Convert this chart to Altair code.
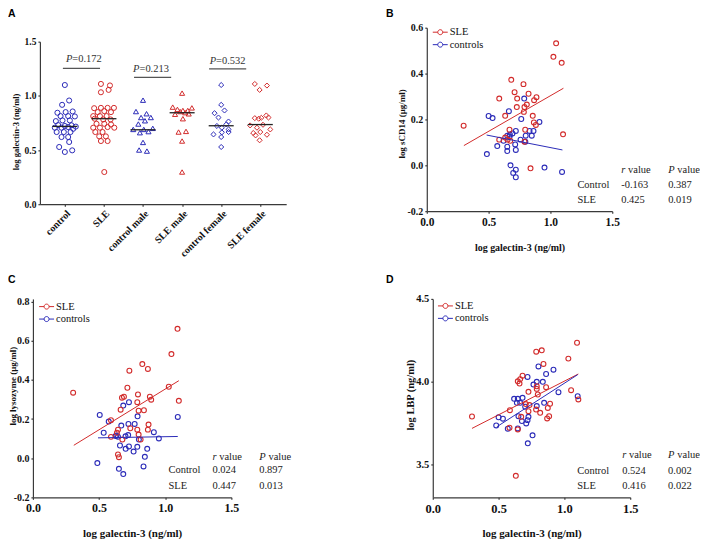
import json
import altair as alt
import pandas as pd

RED = "#d22b2b"
BLUE = "#2b2bb8"
AXIS_C = "#3a3a3a"
SERIF = "Liberation Serif"
SANS = "Liberation Sans"

# ---------------- Panel A: galectin-3 by group ----------------
A_categories = ["control", "SLE", "control male", "SLE male", "control female", "SLE female"]
A_group_colour = ["control", "SLE", "control", "SLE", "control", "SLE"]
A_group_shape = ["circle", "circle", "triangle", "triangle", "diamond", "diamond"]

A_control_vals = [1.10, 0.957, 0.917, 0.844, 0.850, 0.856, 0.813, 0.813, 0.810, 0.767, 0.773, 0.773,
                  0.730, 0.722, 0.728, 0.716, 0.706, 0.706, 0.712, 0.696, 0.666, 0.666, 0.666,
                  0.620, 0.620, 0.574, 0.528, 0.482, 0.497]
A_control_dx = [0.0, 0.11, -0.07, -0.19, 0.02, 0.20, -0.11, 0.085, 0.256, -0.23, -0.06, 0.128,
                -0.17, 0.0, 0.17, 0.28, -0.256, -0.085, 0.085, 0.214, -0.21, -0.026, 0.145,
                -0.085, 0.085, 0.111, -0.145, 0.0, 0.188]
A_sle_vals = [1.110, 1.096, 1.055, 1.033, 0.886, 0.889, 0.889, 0.889, 0.850, 0.859, 0.850,
              0.813, 0.813, 0.813, 0.789, 0.782, 0.782, 0.742, 0.742, 0.736, 0.706, 0.706,
              0.712, 0.706, 0.666, 0.666, 0.626, 0.626, 0.583, 0.583, 0.297]
A_sle_dx = [-0.077, 0.154, 0.12, -0.077, -0.25, -0.077, 0.094, 0.256, -0.16, 0.009, 0.18,
            -0.274, -0.103, 0.068, -0.235, -0.017, 0.17, -0.19, 0.009, 0.18, -0.274, -0.103,
            0.094, 0.265, -0.22, -0.035, -0.12, 0.05, -0.077, 0.094, 0.009]
A_cmale_vals = [0.96, 0.855, 0.835, 0.80, 0.80, 0.77, 0.74, 0.70, 0.69, 0.69, 0.67, 0.66, 0.57, 0.50, 0.49]
A_cmale_dx = [0.0, -0.18, 0.09, -0.05, 0.20, 0.05, -0.12, 0.25, -0.25, 0.02, 0.14, -0.08, 0.0, -0.1, 0.1]
A_smale_vals = [1.025, 0.896, 0.889, 0.875, 0.865, 0.865, 0.855, 0.845, 0.834, 0.830, 0.789, 0.672, 0.666, 0.583, 0.297]
A_smale_dx = [0.0, -0.24, 0.25, -0.12, 0.02, 0.145, -0.05, 0.08, 0.17, -0.18, 0.02, 0.10, -0.09, 0.0, 0.0]
A_cfem_vals = [1.10, 0.917, 0.865, 0.84, 0.80, 0.763, 0.736, 0.722, 0.706, 0.69, 0.644, 0.663, 0.666, 0.62, 0.528]
A_cfem_dx = [0.0, 0.0, 0.085, -0.17, -0.07, 0.187, 0.13, -0.11, 0.017, 0.19, -0.197, 0.017, 0.19, 0.0, 0.0]
A_sfem_vals = [1.11, 1.095, 1.055, 0.819, 0.80, 0.794, 0.789, 0.797, 0.727, 0.733, 0.706, 0.69,
               0.657, 0.666, 0.641, 0.635, 0.59]
A_sfem_dx = [-0.14, 0.17, -0.017, 0.154, 0.21, -0.14, -0.04, 0.026, -0.26, 0.07, -0.085, 0.256,
             -0.18, 0.0, 0.17, -0.12, -0.017]
A_medians = [0.718, 0.789, 0.687, 0.844, 0.724, 0.735]

A_brk_x1 = [-0.05, 1.77, 3.69]
A_brk_x2 = [0.90, 2.72, 4.64]
A_brk_y = [1.254, 1.171, 1.249]
A_p_text = ["=0.172", "=0.213", "=0.532"]
A_p_x = [0.19, 1.91, 3.87]
A_p_y = [1.343, 1.252, 1.325]

# ---------------- Panels B-D: scatter vs galectin-3 ----------------
B_sle_x = [1.046, 1.024, 1.091, 0.683, 0.782, 0.710, 0.823, 0.586, 0.731, 0.887, 0.868, 0.809, 0.790,
           0.728, 0.785, 0.634, 0.857, 0.866, 0.882, 0.298, 0.669, 0.796, 1.102, 0.586, 0.634, 0.653,
           0.675, 0.790, 0.839]
B_sle_y = [0.532, 0.473, 0.447, 0.373, 0.354, 0.319, 0.312, 0.291, 0.291, 0.297, 0.284, 0.265, 0.254,
           0.254, 0.233, 0.216, 0.216, 0.187, 0.176, 0.173, 0.155, 0.155, 0.135, 0.112, 0.121, 0.112,
           0.107, 0.103, -0.013]
B_ctl_x = [0.788, 0.664, 0.500, 0.532, 0.764, 0.911, 0.831, 0.863, 0.720, 0.693, 0.849, 0.800, 0.672,
           0.651, 0.758, 0.621, 0.570, 0.715, 0.651, 0.651, 0.720, 0.486, 0.797, 0.677, 0.952, 0.720,
           0.699, 0.720, 1.094, 0.670]
B_ctl_y = [0.291, 0.236, 0.215, 0.206, 0.202, 0.189, 0.150, 0.150, 0.150, 0.139, 0.129, 0.129, 0.134,
           0.129, 0.112, 0.107, 0.084, 0.091, 0.081, 0.062, 0.067, 0.049, 0.103, 0.000, -0.010, -0.019,
           -0.033, -0.052, -0.029, 0.126]
B_fit_sle = ([0.300, 1.105], [0.086, 0.336])
B_fit_ctl = ([0.484, 1.097], [0.132, 0.067])
B_stats_r = ["-0.163", "0.425"]
B_stats_p = ["0.387", "0.019"]

C_sle_x = [1.093, 1.047, 0.827, 0.869, 0.729, 1.027, 0.304, 0.714, 1.103, 0.794, 0.673, 0.688, 0.884,
           0.894, 0.789, 0.663, 0.799, 0.839, 0.590, 0.874, 0.789, 0.869, 0.736, 0.643, 0.635, 0.799,
           0.590, 0.676, 0.814, 0.643, 0.650]
C_sle_y = [0.661, 0.532, 0.481, 0.456, 0.447, 0.365, 0.335, 0.360, 0.293, 0.326, 0.309, 0.314, 0.314,
           0.299, 0.286, 0.248, 0.243, 0.245, 0.194, 0.172, 0.146, 0.146, 0.153, 0.146, 0.130, 0.121,
           0.109, 0.095, 0.095, 0.019, 0.005]
C_ctl_x = [1.095, 0.726, 0.683, 0.505, 0.791, 0.573, 0.722, 0.769, 0.668, 0.535, 0.914, 0.631, 0.643,
           0.720, 0.952, 0.801, 0.658, 0.726, 0.789, 0.864, 0.701, 0.761, 0.846, 0.487, 0.836, 0.650,
           0.683, 0.625, 0.700]
C_ctl_y = [0.211, 0.286, 0.269, 0.221, 0.214, 0.187, 0.175, 0.175, 0.167, 0.130, 0.133, 0.116, 0.110,
           0.118, 0.101, 0.095, 0.065, 0.060, 0.058, 0.048, 0.048, 0.034, 0.007, -0.025, -0.042, -0.054,
           -0.081, 0.113, 0.112]
C_fit_sle = ([0.309, 1.103], [0.066, 0.396])
C_fit_ctl = ([0.492, 1.095], [0.104, 0.111])
C_stats_r = ["0.024", "0.447"]
C_stats_p = ["0.897", "0.013"]

D_sle_x = [1.096, 0.786, 0.828, 1.030, 0.841, 0.682, 0.664, 0.646, 0.659, 0.790, 0.790, 0.727, 0.861,
           0.798, 1.051, 1.106, 0.891, 0.707, 0.785, 0.727, 0.816, 0.874, 0.586, 0.884, 0.869, 0.672,
           0.298, 0.583, 0.646, 0.631, 0.735]
D_sle_y = [4.235, 4.181, 4.189, 4.139, 4.107, 4.036, 4.015, 4.002, 3.988, 3.972, 3.956, 3.938, 3.966,
           3.922, 3.948, 3.892, 3.866, 3.864, 3.831, 3.821, 3.811, 3.841, 3.827, 3.791, 3.777, 3.787,
           3.789, 3.721, 3.711, 3.430, 3.858]
D_ctl_x = [0.803, 0.917, 0.861, 0.720, 0.836, 0.790, 0.765, 0.955, 1.101, 0.682, 0.618, 0.646, 0.639,
           0.664, 0.702, 0.790, 0.846, 0.651, 0.727, 0.720, 0.500, 0.533, 0.482, 0.677, 0.710, 0.570,
           0.646, 0.758, 0.722]
D_ctl_y = [4.092, 4.072, 4.046, 4.028, 3.999, 3.999, 3.982, 3.936, 3.912, 3.902, 3.896, 3.896, 3.872,
           3.872, 3.848, 3.852, 3.872, 3.791, 3.787, 3.767, 3.784, 3.776, 3.735, 3.761, 3.747, 3.715,
           3.717, 3.675, 3.627]
D_fit_sle = ([0.298, 1.106], [3.717, 4.046])
D_fit_ctl = ([0.487, 1.101], [3.727, 4.042])
D_stats_r = ["0.524", "0.416"]
D_stats_p = ["0.002", "0.022"]

stat_rows = ["Control", "SLE"]
series = ["SLE", "controls"]

MINUS_FIX = "replace(format(datum.value, '.1f'), '\u2212', '-')"
LEG_PATH = ("M-1.5,0H-0.5M0.5,0H1.5M0.5,0A0.5,0.5,0,1,1,-0.5,0A0.5,0.5,0,1,1,0.5,0")


def axis(**kw):
    base = dict(labelFont=SERIF, labelFontWeight="bold", labelColor="#111",
                titleFont=SERIF, titleFontWeight="bold", titleColor="#111",
                domainColor=AXIS_C, tickColor=AXIS_C, domainWidth=1.2, tickWidth=1.2,
                tickSize=2, labelPadding=2, grid=False, labelOverlap=False, labelBound=False,
                tickCount=20)
    base.update(kw)
    return alt.Axis(**base)


def letter(ch, x, y):
    return alt.Chart(pd.DataFrame({"t": [ch]})).mark_text(
        font=SANS, fontWeight="bold", fontSize=10.5, align="left", baseline="top", color="#000"
    ).encode(x=alt.value(x), y=alt.value(y), text="t:N")


# ---- Panel A ----
rows = []
for i, (vals, dxs) in enumerate(zip(
        [A_control_vals, A_sle_vals, A_cmale_vals, A_smale_vals, A_cfem_vals, A_sfem_vals],
        [A_control_dx, A_sle_dx, A_cmale_dx, A_smale_dx, A_cfem_dx, A_sfem_dx])):
    for v, d in zip(vals, dxs):
        rows.append({"pos": i + d, "val": v, "grp": A_group_colour[i], "shp": A_group_shape[i]})
dfA = pd.DataFrame(rows)

xA = alt.Scale(domain=[-0.638, 5.663], nice=False, zero=False)
yA = alt.Scale(domain=[0, 1.5], range=[177, 14], nice=False, zero=False)

ptsA = alt.Chart(dfA).mark_point(filled=False, size=26, strokeWidth=1, opacity=1).encode(
    x=alt.X("pos:Q", scale=xA, axis=axis(values=[0, 1, 2, 3, 4, 5], labelAngle=-45, labelFontSize=10,
                                        labelExpr=json.dumps(A_categories) + "[datum.value]",
                                        labelFlush=False, title=None)),
    y=alt.Y("val:Q", scale=yA, axis=axis(values=[0, 0.5, 1.0, 1.5], labelExpr=MINUS_FIX, labelFontSize=9.5,
                                         title="log galectin-3 (ng/ml)", titleFontSize=8.5,
                                         titleBaseline="middle", titleX=-24.5, titleY=104)),
    color=alt.Color("grp:N", scale=alt.Scale(domain=["control", "SLE"], range=[BLUE, RED]), legend=None),
    shape=alt.Shape("shp:N", scale=alt.Scale(domain=["circle", "triangle", "diamond"],
                                             range=["circle", "triangle-up", "diamond"]), legend=None),
)
medA = alt.Chart(pd.DataFrame({"g": list(range(6)), "med": A_medians})).transform_calculate(
    lo="datum.g - 0.32", hi="datum.g + 0.32"
).mark_rule(color="#222", strokeWidth=1.3).encode(x="lo:Q", x2="hi:Q", y="med:Q")
brkA = alt.Chart(pd.DataFrame({"x1": A_brk_x1, "x2": A_brk_x2, "y": A_brk_y})).mark_rule(
    color="#555", strokeWidth=1.3).encode(x="x1:Q", x2="x2:Q", y="y:Q")
dfP = pd.DataFrame({"x": A_p_x, "y": A_p_y, "t": A_p_text})
pA1 = alt.Chart(dfP).mark_text(text="P", font=SERIF, fontStyle="italic", fontSize=10.5, align="right",
                               baseline="middle", color="#333").encode(x="x:Q", y="y:Q")
pA2 = alt.Chart(dfP).mark_text(font=SERIF, fontSize=10.5, align="left", baseline="middle",
                               color="#333").encode(x="x:Q", y="y:Q", text="t:N")
panelA = alt.layer(ptsA, medA, brkA, pA1, pA2, letter("A", -32, -19)).properties(width=247, height=177)


# ---- scatter panels ----
def scatter_panel(tag, tag_x, tag_y, sx, sy, cx, cy, fit_s, fit_c, stats_r, stats_p,
                  width, height, xrange, ydomain, yvalues, yoffset,
                  ytitle, ytitle_size, ytitle_x, ytitle_y, ylab_size, xlab_size, xtitle_size,
                  xtitle_y, leg_x, leg_y, col_x, row_y):
    pts = pd.DataFrame({
        "gal": list(cx) + list(sx),
        "val": list(cy) + list(sy),
        "grp": ["controls"] * len(cx) + ["SLE"] * len(sx),
    })
    xs = alt.Scale(domain=[0, 1.5], range=xrange, nice=False, zero=False)
    ys = alt.Scale(domain=ydomain, nice=False, zero=False)
    p = alt.Chart(pts).mark_point(shape="circle", filled=False, size=24, strokeWidth=1.1, opacity=1).encode(
        x=alt.X("gal:Q", scale=xs, axis=axis(values=[0, 0.5, 1.0, 1.5], labelExpr=MINUS_FIX,
                                             labelFontSize=xlab_size, labelFlush=False, labelPadding=3,
                                             title="log galectin-3 (ng/ml)", titleFontSize=xtitle_size,
                                             titleBaseline="middle", titleY=xtitle_y)),
        y=alt.Y("val:Q", scale=ys, axis=axis(values=yvalues, labelExpr=MINUS_FIX, labelFontSize=ylab_size,
                                             offset=yoffset,
                                             title=ytitle, titleFontSize=ytitle_size,
                                             titleBaseline="middle", titleX=ytitle_x, titleY=ytitle_y)),
        color=alt.Color("grp:N", scale=alt.Scale(domain=series, range=[RED, BLUE]),
                        legend=alt.Legend(orient="none", legendX=leg_x, legendY=leg_y, title=None,
                                          symbolType=LEG_PATH, symbolSize=100, symbolStrokeWidth=1,
                                          symbolFillColor="transparent",
                                          labelFont=SERIF, labelFontSize=10.5, labelColor="#111",
                                          labelOffset=4, rowPadding=1.5, padding=0)),
        order=alt.Order("grp:N", sort="descending"),
    )
    ls = alt.Chart(pd.DataFrame({"gal": fit_s[0], "val": fit_s[1]})).mark_line(
        color=RED, strokeWidth=1).encode(x="gal:Q", y="val:Q")
    lc = alt.Chart(pd.DataFrame({"gal": fit_c[0], "val": fit_c[1]})).mark_line(
        color=BLUE, strokeWidth=1).encode(x="gal:Q", y="val:Q")

    txt_kw = dict(font=SERIF, fontSize=10.5, align="left", baseline="middle", color="#222")
    body = pd.DataFrame({
        "gal": [col_x[0]] * 2 + [col_x[1]] * 2 + [col_x[2]] * 2,
        "val": [row_y[1], row_y[2]] * 3,
        "t": stat_rows + list(stats_r) + list(stats_p),
    })
    heads = pd.DataFrame({"gal": [col_x[1], col_x[2]], "val": [row_y[0]] * 2, "h": ["r", "P"]})
    t_body = alt.Chart(body).mark_text(**txt_kw).encode(x="gal:Q", y="val:Q", text="t:N")
    t_r = alt.Chart(heads).transform_filter("datum.h == 'r'").mark_text(fontStyle="italic", **txt_kw).encode(
        x="gal:Q", y="val:Q", text="h:N")
    t_p = alt.Chart(heads).transform_filter("datum.h == 'P'").mark_text(fontStyle="italic", **txt_kw).encode(
        x="gal:Q", y="val:Q", text="h:N")
    t_rv = alt.Chart(heads).transform_filter("datum.h == 'r'").mark_text(text="value", dx=6.8, **txt_kw).encode(
        x="gal:Q", y="val:Q")
    t_pv = alt.Chart(heads).transform_filter("datum.h == 'P'").mark_text(text="value", dx=9.2, **txt_kw).encode(
        x="gal:Q", y="val:Q")
    return alt.layer(p, ls, lc, t_body, t_r, t_p, t_rv, t_pv, letter(tag, tag_x, tag_y)
                     ).properties(width=width, height=height)


panelB = scatter_panel("B", -47, -19, B_sle_x, B_sle_y, B_ctl_x, B_ctl_y, B_fit_sle, B_fit_ctl,
                       B_stats_r, B_stats_p,
                       width=180, height=184, xrange=[-6, 180], ydomain=[-0.2, 0.6],
                       yvalues=[-0.2, 0.0, 0.2, 0.4, 0.6], yoffset=6,
                       ytitle="log sCD14 (\u03bcg/ml)", ytitle_size=9, ytitle_x=-25, ytitle_y=96,
                       ylab_size=10, xlab_size=11.5, xtitle_size=10, xtitle_y=36,
                       leg_x=2, leg_y=-1,
                       col_x=[1.218, 1.573, 1.952], row_y=[-0.019, -0.084, -0.153])

panelC = scatter_panel("C", -32, -24, C_sle_x, C_sle_y, C_ctl_x, C_ctl_y, C_fit_sle, C_fit_ctl,
                       C_stats_r, C_stats_p,
                       width=192, height=199, xrange=[-7, 192], ydomain=[-0.2, 0.8138],
                       yvalues=[-0.2, 0.0, 0.2, 0.4, 0.6, 0.8], yoffset=7,
                       ytitle="log lysozyme (\u03bcg/ml)", ytitle_size=9, ytitle_x=-20.5, ytitle_y=87,
                       ylab_size=10, xlab_size=12, xtitle_size=11, xtitle_y=36,
                       leg_x=1.2, leg_y=2.2,
                       col_x=[1.025, 1.357, 1.711], row_y=[0.005, -0.062, -0.141])

panelD = scatter_panel("D", -47, -24, D_sle_x, D_sle_y, D_ctl_x, D_ctl_y, D_fit_sle, D_fit_ctl,
                       D_stats_r, D_stats_p,
                       width=198, height=199, xrange=[0, 198], ydomain=[3.3, 4.5],
                       yvalues=[3.5, 4.0, 4.5], yoffset=0,
                       ytitle="log LBP (ng/ml)", ytitle_size=10.5, ytitle_x=-22.5, ytitle_y=96,
                       ylab_size=10.5, xlab_size=12.5, xtitle_size=11, xtitle_y=36,
                       leg_x=7.2, leg_y=1.5,
                       col_x=[1.098, 1.439, 1.788], row_y=[3.556, 3.460, 3.366])

chart = alt.concat(
    panelA, panelB, panelC, panelD, columns=2,
    spacing={"row": 88, "column": 147}, bounds="flush",
).resolve_scale(
    x="independent", y="independent", color="independent", shape="independent"
).resolve_legend(
    color="independent", shape="independent"
).properties(padding=0).configure_view(stroke=None).configure_axis(labelOverlap=False)

chart.save("out.html", embed_options={"renderer": "svg", "actions": False})
